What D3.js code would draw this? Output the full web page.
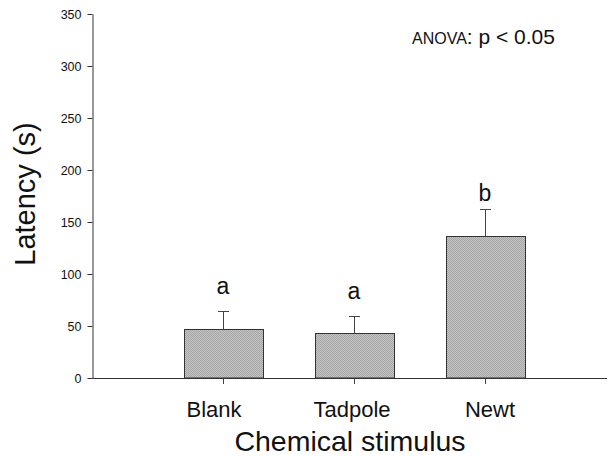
<!DOCTYPE html>
<html><head><meta charset="utf-8">
<script src="https://cdn.jsdelivr.net/npm/d3@7"></script>
<style>
html,body{margin:0;padding:0;background:#fff;}
svg{display:block;font-family:"Liberation Sans",Arial,sans-serif;}
</style></head>
<body>
<svg id="chart" width="610" height="457"></svg>
<script>
const categories = ["Blank", "Tadpole", "Newt"];
const means = [47.2, 43.3, 136.4];
const errorTops = [64.5, 59.7, 162.7];
const letters = ["a", "a", "b"];
const letterValues = [81.2, 76.4, 170.4];
const yTicks = [0, 50, 100, 150, 200, 250, 300, 350];

const svg = d3.select("#chart");
const defs = svg.append("defs");
const pat = defs.append("pattern").attr("id","dots").attr("patternUnits","userSpaceOnUse")
  .attr("width",4).attr("height",4);
pat.append("rect").attr("width",4).attr("height",4).attr("fill","#c4c4c4");
[[0,0],[2,0],[1,1],[3,1],[0,2],[2,2],[1,3],[3,3]].forEach(p=>{
  pat.append("rect").attr("x",p[0]).attr("y",p[1]).attr("width",1).attr("height",1)
    .attr("fill","#a6a6a6").attr("shape-rendering","crispEdges");
});

const y = d3.scaleLinear().domain([0,350]).range([378,14]);
const x = d3.scaleBand().domain(categories).range([157.5,550.5]).paddingInner(0.4).paddingOuter(0.2);
const xLab = d3.scalePoint().domain(categories).range([214,490]);
const axisColor = "#333";

// y axis
const ya = svg.append("g").attr("transform","translate(92.5,0)")
  .call(d3.axisLeft(y).tickValues(yTicks).tickSize(5).tickSizeOuter(0).tickPadding(6));
ya.select(".domain").attr("stroke",axisColor);
ya.selectAll(".tick line").attr("stroke",axisColor);
ya.selectAll(".tick text").attr("font-size",12.5).attr("fill","#111")
  .attr("font-family","'Liberation Sans',Arial,sans-serif");

// bars
svg.selectAll("rect.bar").data(categories).join("rect").attr("class","bar")
  .attr("x",d=>Math.round(x(d))+0.5).attr("width",Math.round(x.bandwidth()))
  .attr("y",(d,i)=>Math.round(y(means[i]))+0.5)
  .attr("height",(d,i)=>y(0)-Math.round(y(means[i]))-0.5)
  .attr("fill","url(#dots)").attr("stroke","#333").attr("stroke-width",1);

// error bars
const eb = svg.append("g").attr("stroke","#444").attr("stroke-width",1);
categories.forEach((c,i)=>{
  const cx = Math.round(x(c)+x.bandwidth()/2)+0.5;
  eb.append("line").attr("x1",cx).attr("x2",cx).attr("y1",Math.round(y(means[i]))).attr("y2",Math.round(y(errorTops[i]))+0.5);
  eb.append("line").attr("x1",cx-5.5).attr("x2",cx+5.5).attr("y1",Math.round(y(errorTops[i]))+0.5).attr("y2",Math.round(y(errorTops[i]))+0.5);
  eb.append("line").attr("x1",cx).attr("x2",cx).attr("y1",y(0)).attr("y2",y(0)+6);
});

// x axis line
svg.append("line").attr("x1",92.5).attr("x2",607).attr("y1",378.5).attr("y2",378.5)
  .attr("stroke",axisColor).attr("stroke-width",1.2);

// significance letters
svg.selectAll("text.letter").data(categories).join("text").attr("class","letter")
  .attr("x",d=>x(d)+x.bandwidth()/2).attr("y",(d,i)=>y(letterValues[i]))
  .attr("text-anchor","middle").attr("font-size",23).attr("fill","#111")
  .text((d,i)=>letters[i]);

// category labels
svg.selectAll("text.cat").data(categories).join("text").attr("class","cat")
  .attr("x",d=>xLab(d)).attr("y",417).attr("text-anchor","middle")
  .attr("font-size",22).attr("fill","#111").text(d=>d);

// axis titles
svg.append("text").attr("x",350).attr("y",451).attr("text-anchor","middle")
  .attr("font-size",28.5).attr("fill","#111").text("Chemical stimulus");
svg.append("text").attr("transform","translate(35,194) rotate(-90)").attr("text-anchor","middle")
  .attr("font-size",29).attr("fill","#111").text("Latency (s)");

// ANOVA annotation
const an = svg.append("text").attr("x",412).attr("y",44).attr("fill","#111");
an.append("tspan").attr("font-size",16).text("ANOVA");
an.append("tspan").attr("font-size",21).text(": p < 0.05");
</script>
</body></html>
